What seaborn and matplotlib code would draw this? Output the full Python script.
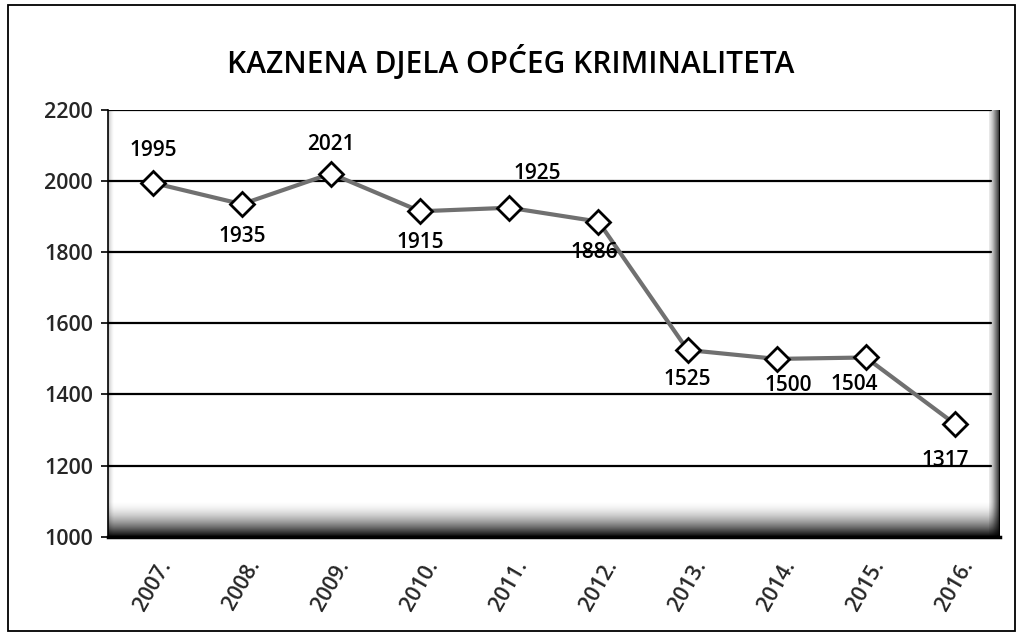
import numpy as np
import pandas as pd
import matplotlib
matplotlib.use("Agg")
import matplotlib.pyplot as plt
import seaborn as sns
from matplotlib.patches import Rectangle

##### data
years = ['2007.', '2008.', '2009.', '2010.', '2011.', '2012.', '2013.', '2014.', '2015.', '2016.']
crimes = [1995, 1935, 2021, 1915, 1925, 1886, 1525, 1500, 1504, 1317]
yticks = [1000, 1200, 1400, 1600, 1800, 2000, 2200]

##### label offsets in pixels (dx, dy) - some above, some below
label_off = [(0, 32), (0, -32), (0, 29), (0, -31), (28, 34), (-4, -31),
             (0, -29), (12, -27), (-12, -27), (-10, -37)]

df = pd.DataFrame({'pos': range(len(years)), 'year': years, 'crimes': crimes})

sns.set_style('white')
plt.rcParams['font.family'] = ['Open Sans', 'DejaVu Sans']
plt.rcParams['font.weight'] = 'semibold'

fig = plt.figure(figsize=(10.21, 6.39), dpi=100)
ax = fig.add_axes([0.106, 0.16, 0.873, 0.668])

#### grey "3D" walls and floor (axes coords)
wall = np.linspace(0.25, 1, 32).reshape(1, -1) ** 1.3
ax.imshow(wall, cmap='Greys', vmin=0, vmax=1.1, aspect='auto', origin='lower',
          extent=(0.988, 1.0, 0, 1), transform=ax.transAxes, zorder=0.4)
lwall = np.linspace(1, 0, 16).reshape(1, -1)
ax.imshow(lwall * 0.35, cmap='Greys', vmin=0, vmax=1, aspect='auto', origin='lower',
          extent=(0, 0.006, 0, 1), transform=ax.transAxes, zorder=0.4)
# floor: black with alpha fading upwards
fade = np.linspace(1, 0, 64) ** 1.8
floor = np.zeros((64, 1, 4))
floor[:, 0, 3] = fade
ax.imshow(floor, aspect='auto', origin='lower',
          extent=(0, 1, 0, 0.085), transform=ax.transAxes, zorder=0.5)

for t in yticks[1:]:
    ax.axhline(t, xmax=0.99, color='black', lw=1.6, zorder=1)
ax.axvline(len(years) - 0.5, color='black', lw=2, zorder=1)

sns.lineplot(data=df, x='pos', y='crimes', ax=ax, color='#707070', lw=3,
             marker='D', markersize=12, markerfacecolor='white',
             markeredgecolor='black', markeredgewidth=2, zorder=3)

for i, v in enumerate(crimes):
    dx, dy = label_off[i]
    ax.annotate(str(v), (i, v), xytext=(dx, dy), textcoords='offset pixels',
                ha='center', va='center', fontsize=15, color='black', zorder=4)

ax.set_xlim(-0.5, len(years) - 0.5)
ax.set_ylim(1000, 2200)
ax.set_yticks(yticks)
ax.set_yticklabels([str(t) for t in yticks], fontsize=15.5)
ax.set_xticks(range(len(years)))
ax.set_xticklabels(years, rotation=60, fontsize=15.5, ha='center')
ax.set_xticks(np.arange(-0.5, len(years), 1), minor=True)
ax.tick_params(axis='x', which='major', length=0, pad=14)
ax.tick_params(axis='x', which='minor', length=5, width=1.2, color='black', direction='out')
ax.tick_params(axis='y', length=5, width=1.2, color='black', direction='out', left=True, pad=6)
ax.set_xlabel('')
ax.set_ylabel('')
ax.grid(False)

for s in ['top', 'right']:
    ax.spines[s].set_visible(False)
ax.spines['left'].set_color('black')
ax.spines['left'].set_linewidth(1.2)
ax.spines['bottom'].set_color('black')
ax.spines['bottom'].set_linewidth(2.5)

fig.text(0.5, 0.902, 'KAZNENA DJELA OPĆEG KRIMINALITETA', ha='center', va='center',
         fontsize=21.5, color='black')

#### outer border of the chart
fig.patches.append(Rectangle((0.008, 0.012), 0.986, 0.98, transform=fig.transFigure,
                             fill=False, edgecolor='black', lw=1.3))

fig.savefig('out.png', dpi=100)
